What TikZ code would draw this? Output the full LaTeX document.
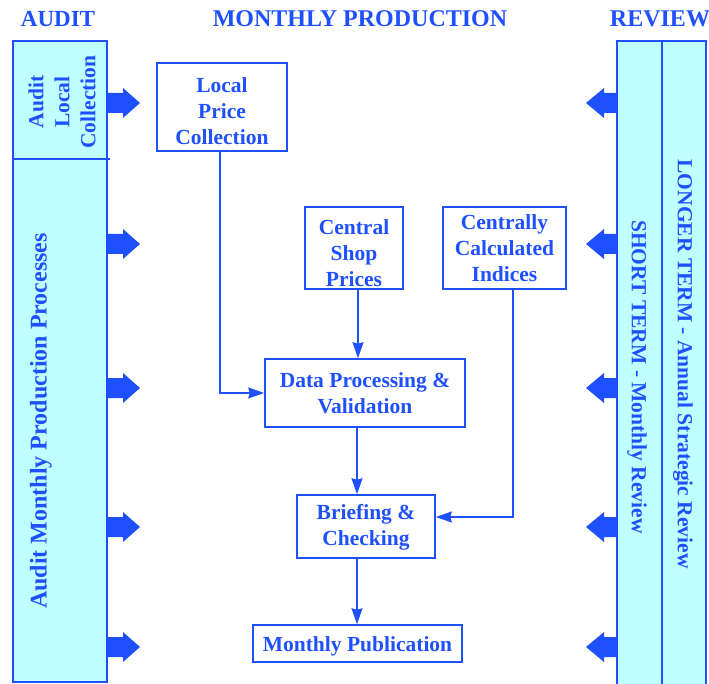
\documentclass[tikz,border=0pt]{standalone}
\usepackage{fontspec}
\setmainfont{Liberation Serif}
\usetikzlibrary{arrows.meta}
\definecolor{dblue}{RGB}{30,80,255}
\definecolor{lcyan}{RGB}{192,255,255}
\tikzset{
  txt/.style={text=dblue, font=\fontsize{21.5}{26}\selectfont\bfseries, align=center, inner sep=0pt},
  bigtxt/.style={txt, font=\fontsize{24}{28}\selectfont\bfseries},
  procbox/.style={draw=dblue, line width=1.6pt, minimum width=#1, inner sep=0pt},
  col/.style={draw=dblue, line width=1.6pt, fill=lcyan},
  conn/.style={draw=dblue, line width=1.3pt, -{Stealth[length=16pt,width=11pt,inset=1.5pt]}},
  fat/.style={fill=dblue, draw=none},
}
\newcommand{\fatright}[1]{\fill[fat] (107,#1-10) -- (123,#1-10) -- (123,#1-15) -- (140,#1) -- (123,#1+15) -- (123,#1+10) -- (107,#1+10) -- cycle;}
\newcommand{\fatleft}[1]{\fill[fat] (617,#1-10) -- (604,#1-10) -- (604,#1-15) -- (586,#1) -- (604,#1+15) -- (604,#1+10) -- (617,#1+10) -- cycle;}
\begin{document}
\begin{tikzpicture}[x=1pt,y=-1pt]
\useasboundingbox (0,0) rectangle (709,684);
% titles
\node[bigtxt, font=\fontsize{23}{28}\selectfont\bfseries] (tAudit) at (58,19) {AUDIT};
\node[bigtxt] (tMonthly) at (360,19) {MONTHLY PRODUCTION};
\node[bigtxt] (tReview) at (660,19) {REVIEW};
% left column
\draw[col] (13,159) rectangle (107,682);
\draw[col] (13,41) rectangle (107,159);
\draw[dblue, line width=1.2pt] (107,159) -- (110,159);
\node[txt, rotate=90] (alc) at (62,102) {Audit\\Local\\Collection};
\node[bigtxt, rotate=90] (amp) at (41,421) {Audit Monthly Production Processes};
% right column
\draw[col] (617,41) rectangle (706,686);
\draw[dblue, line width=1.6pt] (662,41) -- (662,686);
\node[txt, rotate=-90] (st) at (637,377) {SHORT TERM - Monthly Review};
\node[txt, rotate=-90] (lt) at (683,364) {LONGER TERM - Annual Strategic Review};
% fat arrows
\foreach \yy in {103,244,388,527,647} {\fatright{\yy} \fatleft{\yy}}
% process boxes
\node[procbox=130pt, minimum height=88pt] (lpc) at (222,107) {};
\node[procbox=98pt, minimum height=82pt] (csp) at (354,248) {};
\node[procbox=123pt, minimum height=82pt] (cci) at (504.5,248) {};
\node[procbox=200pt, minimum height=68pt] (dpv) at (365,393) {};
\node[procbox=138pt, minimum height=63pt] (bc) at (366,526.5) {};
\node[procbox=209pt, minimum height=37pt] (mp) at (357.5,643.5) {};
% box texts
\node[txt] (lpcT) at ([yshift=-4pt]lpc.center) {Local\\Price\\Collection};
\node[txt] (cspT) at ([yshift=-5pt]csp.center) {Central\\Shop\\Prices};
\node[txt] (cciT) at (cci.center) {Centrally\\Calculated\\Indices};
\node[txt] (dpvT) at (dpv.center) {Data Processing \&\\Validation};
\node[txt] (bcT) at ([yshift=-1pt]bc.center) {Briefing \&\\Checking};
\node[txt] (mpT) at ([yshift=-3pt]mp.center) {Monthly Publication};
% connector guides
\coordinate (xa) at (220,0);
\coordinate (xb) at (358,0);
\coordinate (xc) at (513,0);
\coordinate (xd) at (357,0);
\coordinate (yc) at (0,517);
% connectors
\draw[conn] (lpc.south -| xa) |- (dpv.west);
\draw[conn] (csp.south -| xb) -- (dpv.north -| xb);
\draw[conn] (cci.south -| xc) |- (bc.east |- yc);
\draw[conn] (dpv.south -| xd) -- (bc.north -| xd);
\draw[conn] (bc.south -| xd) -- (mp.north -| xd);
\end{tikzpicture}
\end{document}
